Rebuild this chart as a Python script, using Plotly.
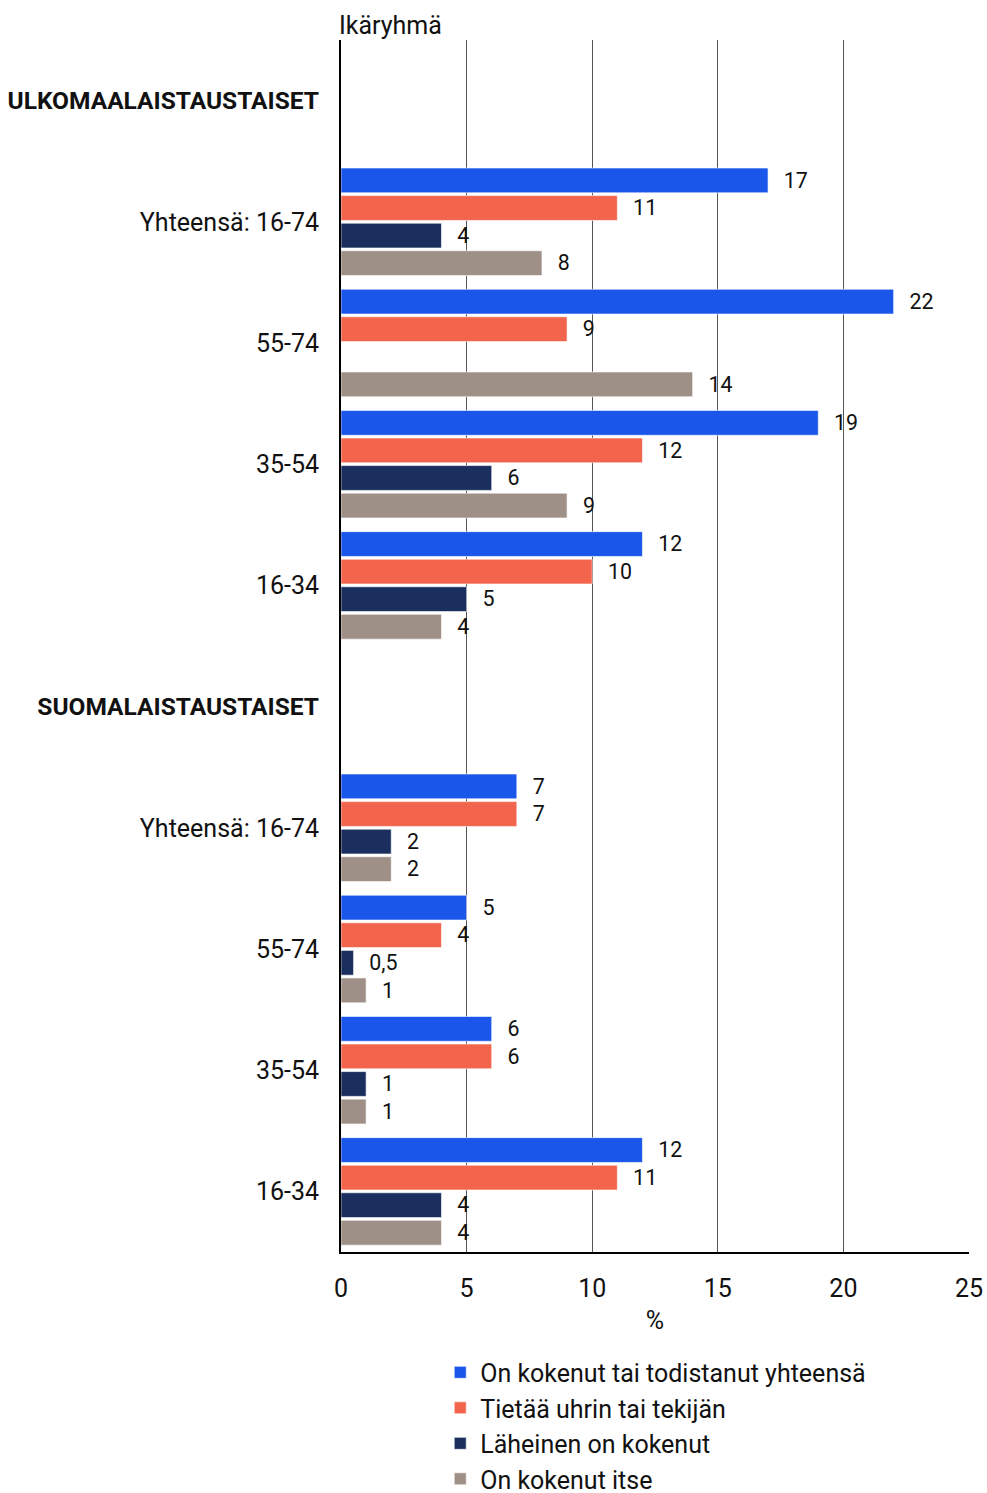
import plotly.graph_objects as go

categories = [
    "<b>ULKOMAALAISTAUSTAISET</b>",
    "Yhteensä: 16-74", "55-74", "35-54", "16-34",
    "<b>SUOMALAISTAUSTAISET</b>",
    "Yhteensä: 16-74", "55-74", "35-54", "16-34",
]
series_names = [
    "On kokenut tai todistanut yhteensä",
    "Tietää uhrin tai tekijän",
    "Läheinen on kokenut",
    "On kokenut itse",
]
total_witnessed = [None, 17, 22, 19, 12, None, 7, 5, 6, 12]
knows_victim = [None, 11, 9, 12, 10, None, 7, 4, 6, 11]
close_one = [None, 4, None, 6, 5, None, 2, 0.5, 1, 4]
experienced_self = [None, 8, 14, 9, 4, None, 2, 1, 1, 4]
colors = ["#1B56EB", "#F2644C", "#1B2F5E", "#9E8F87"]
x_ticks = [0, 5, 10, 15, 20, 25]

series = [total_witnessed, knows_victim, close_one, experienced_self]
ypos = list(range(len(categories)))

FS = 25

def fmt(v):
    if v is None:
        return ""
    s = f"{v:g}".replace(".", ",")
    return "  \u200a" + s

def tick(t):
    if t.startswith("<b>"):
        return '<span style="font-size:24.5px">' + t + "</span>"
    return t

fig = go.Figure()
for name, vals, col in zip(series_names, series, colors):
    fig.add_trace(go.Bar(
        y=ypos, x=vals, name=name, orientation="h",
        marker=dict(color=col, line=dict(color="rgba(255,255,255,0.6)", width=1)),
        text=[fmt(v) for v in vals], textposition="outside",
        textfont=dict(size=FS, color="#111111"),
        cliponaxis=False,
    ))

fig.update_layout(
    width=987, height=1493,
    margin=dict(l=341, r=18, t=40, b=241, autoexpand=False),
    barmode="group", bargap=0.09, bargroupgap=0.1,
    plot_bgcolor="white", paper_bgcolor="white",
    font=dict(family="Roboto", size=FS, color="#111111"),
    showlegend=True,
    legend=dict(x=0.158, xanchor="left", y=-0.0805, yanchor="top",
                orientation="v", font=dict(size=FS), traceorder="normal",
                itemwidth=30),
    xaxis=dict(range=[0, 25], tickvals=x_ticks, showgrid=True,
               gridcolor="#555555", gridwidth=1,
               showline=True, linecolor="black", linewidth=2,
               zeroline=False, ticks="", ticklen=0, ticklabelstandoff=13,
               title=dict(text="%", standoff=9, font=dict(size=FS))),
    yaxis=dict(tickvals=ypos, ticktext=[tick(c) for c in categories],
               showline=True, linecolor="black", linewidth=2,
               showgrid=False, zeroline=False, ticks="", ticklen=0,
               ticklabelstandoff=15, range=[9.5, -0.5]),
    annotations=[dict(text="Ikäryhmä", xref="paper", yref="paper",
                      x=0, y=1.0, xanchor="left", yanchor="bottom",
                      showarrow=False, font=dict(size=FS), xshift=-4, yshift=-2)],
)

fig.write_html("out.html", config={"displayModeBar": False},
               post_script="document.body.style.margin='0';document.body.style.overflow='hidden';")
